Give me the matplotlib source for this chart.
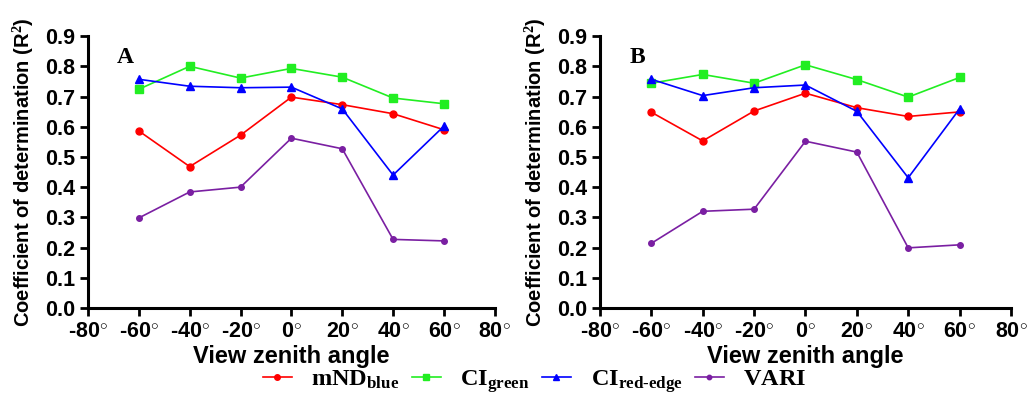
import matplotlib
matplotlib.use("Agg")
import matplotlib.pyplot as plt

plt.rcParams['font.family'] = ['Liberation Sans', 'DejaVu Sans']
plt.rcParams['font.weight'] = 'bold'
plt.rcParams['mathtext.fontset'] = 'custom'
plt.rcParams['mathtext.rm'] = 'Liberation Serif:bold'
plt.rcParams['mathtext.bf'] = 'Liberation Serif:bold'
plt.rcParams['mathtext.it'] = 'Liberation Serif:bold'

angles = [-60, -40, -20, 0, 20, 40, 60]

# panel A
mnd_a = [0.586, 0.468, 0.572, 0.698, 0.673, 0.643, 0.590]
cig_a = [0.724, 0.800, 0.761, 0.793, 0.764, 0.695, 0.676]
cire_a = [0.757, 0.734, 0.729, 0.731, 0.659, 0.440, 0.602]
vari_a = [0.298, 0.384, 0.400, 0.562, 0.527, 0.227, 0.222]

# panel B
mnd_b = [0.648, 0.553, 0.652, 0.711, 0.663, 0.634, 0.649]
cig_b = [0.744, 0.773, 0.744, 0.805, 0.756, 0.698, 0.763]
cire_b = [0.757, 0.703, 0.729, 0.738, 0.651, 0.431, 0.659]
vari_b = [0.214, 0.320, 0.327, 0.552, 0.516, 0.199, 0.209]

xticks = [-80, -60, -40, -20, 0, 20, 40, 60, 80]
yticks = [0.0, 0.1, 0.2, 0.3, 0.4, 0.5, 0.6, 0.7, 0.8, 0.9]

labels = [r'$\mathrm{mND}_{\mathrm{blue}}$', r'$\mathrm{CI}_{\mathrm{green}}$',
          r'$\mathrm{CI}_{\mathrm{red\text{-}edge}}$', r'$\mathrm{VARI}$']
colors = ['#ff0000', '#22ee22', '#0000ff', '#7a1fa2']
markers = ['o', 's', '^', 'o']
msizes = [5, 5.5, 5.5, 4]

fig = plt.figure(figsize=(10.30, 4.01), dpi=100)
axA = fig.add_axes([0.0854, 0.232, 0.395, 0.678])
axB = fig.add_axes([0.5825, 0.232, 0.399, 0.678])

panels = [(axA, 'A', [mnd_a, cig_a, cire_a, vari_a]),
          (axB, 'B', [mnd_b, cig_b, cire_b, vari_b])]

handles = []
for ax, tag, series in panels:
    hs = []
    for vals, c, m, ms, lab in zip(series, colors, markers, msizes, labels):
        h, = ax.plot(angles, vals, color=c, marker=m, markersize=ms, lw=1.2, label=lab)
        hs.append(h)
    handles = hs
    ax.set_xlim(-80, 80)
    ax.set_ylim(0, 0.9)
    ax.set_xticks(xticks)
    ax.set_xticklabels([str(t) + r'$^{\circ}$' for t in xticks])
    ax.set_yticks(yticks)
    ax.set_yticklabels(['%.1f' % t for t in yticks])
    ax.tick_params(labelsize=15.5, width=2, length=6, direction='out')
    for s in ['top', 'right']:
        ax.spines[s].set_visible(False)
    for s in ['left', 'bottom']:
        ax.spines[s].set_linewidth(2.2)
    ax.set_xlabel('View zenith angle', fontsize=17, fontweight='bold', labelpad=2)
    ax.set_ylabel('Coefficient of determination (R$^{2}$)', fontsize=14.5, fontweight='bold',
                  labelpad=6)
    ax.text(0.072, 0.92, tag, transform=ax.transAxes, fontsize=17, fontweight='bold',
            family='Liberation Serif', va='center', ha='left')

fig.legend(handles, labels, loc='center', bbox_to_anchor=(0.519, 0.05), ncol=4,
           frameon=False, fontsize=17.5, handlelength=1.2, columnspacing=0.5,
           handletextpad=0.8, markerscale=0.8)

fig.savefig('out.png', dpi=100)
